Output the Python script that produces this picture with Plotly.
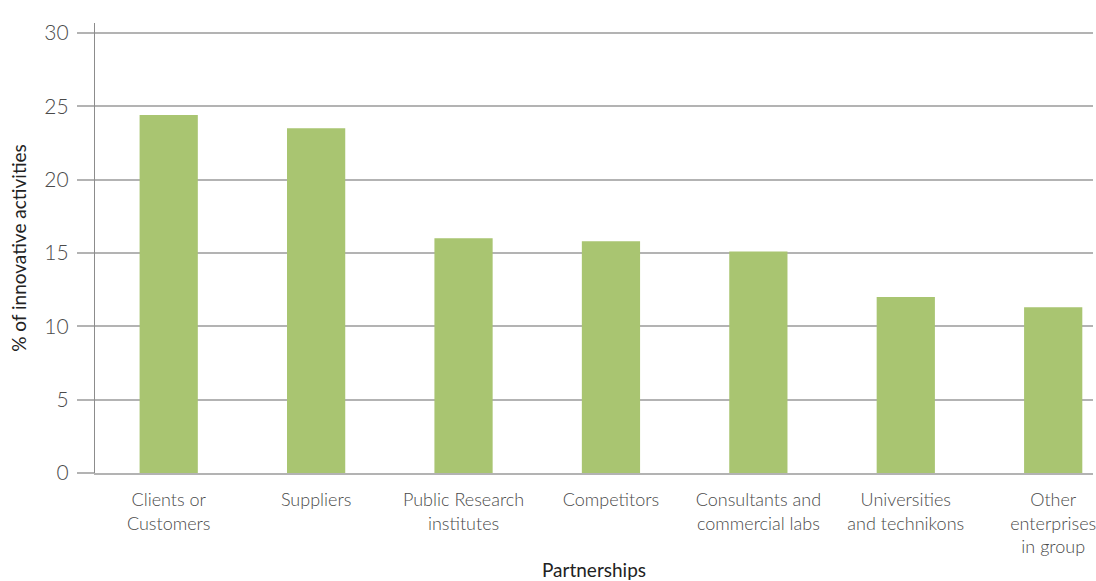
import plotly.graph_objects as go

# Share of innovative activities by type of partnership
partners = [
    "Clients or<br>Customers",
    "Suppliers",
    "Public Research<br>institutes",
    "Competitors",
    "Consultants and<br>commercial labs",
    "Universities<br>and technikons",
    "Other<br>enterprises<br>in group",
]
shares = [24.4, 23.5, 16.0, 15.8, 15.1, 12.0, 11.3]
y_ticks = [0, 5, 10, 15, 20, 25, 30]

BAR_GREEN = "#a9c571"
GRID_GREY = "#b3b3b3"
AXIS_GREY = "#8c8c8c"
TEXT_GREY = "#4a4a4a"
FONT = "Lato, 'Open Sans', sans-serif"

fig = go.Figure(
    go.Bar(
        x=list(range(len(partners))),
        y=shares,
        marker=dict(color=BAR_GREEN, line=dict(width=0)),
        width=0.395,
        hoverinfo="skip",
    )
)

fig.update_layout(
    width=1096,
    height=581,
    margin=dict(l=95, r=3, t=23, b=108),
    plot_bgcolor="white",
    paper_bgcolor="white",
    showlegend=False,
    font=dict(family=FONT, color=TEXT_GREY),
    xaxis=dict(
        range=[-0.5, 6.27],
        tickmode="array",
        tickvals=list(range(len(partners))),
        ticktext=partners,
        tickfont=dict(size=18, color=TEXT_GREY, weight=300),
        ticklabeloverflow="allow",
        automargin=False,
        showgrid=False,
        showline=True,
        linecolor=GRID_GREY,
        linewidth=1.5,
        ticks="",
        ticklabelstandoff=10,
        title=dict(text="Partnerships", font=dict(size=19, color="#222222"), standoff=10),
        fixedrange=True,
    ),
    yaxis=dict(
        range=[0, 30.68],
        tickmode="array",
        tickvals=y_ticks,
        tickfont=dict(size=21, color=TEXT_GREY, weight=300),
        automargin=False,
        showgrid=True,
        gridcolor=GRID_GREY,
        gridwidth=1.5,
        zeroline=False,
        showline=True,
        linecolor=AXIS_GREY,
        linewidth=1.2,
        ticks="outside",
        ticklen=17,
        tickcolor=GRID_GREY,
        tickwidth=1.5,
        ticklabelstandoff=4,
        title=dict(text="% of innovative activities", font=dict(size=19, color="#222222"), standoff=12),
        fixedrange=True,
    ),
)

fig.write_html("out.html", config={"displayModeBar": False})
